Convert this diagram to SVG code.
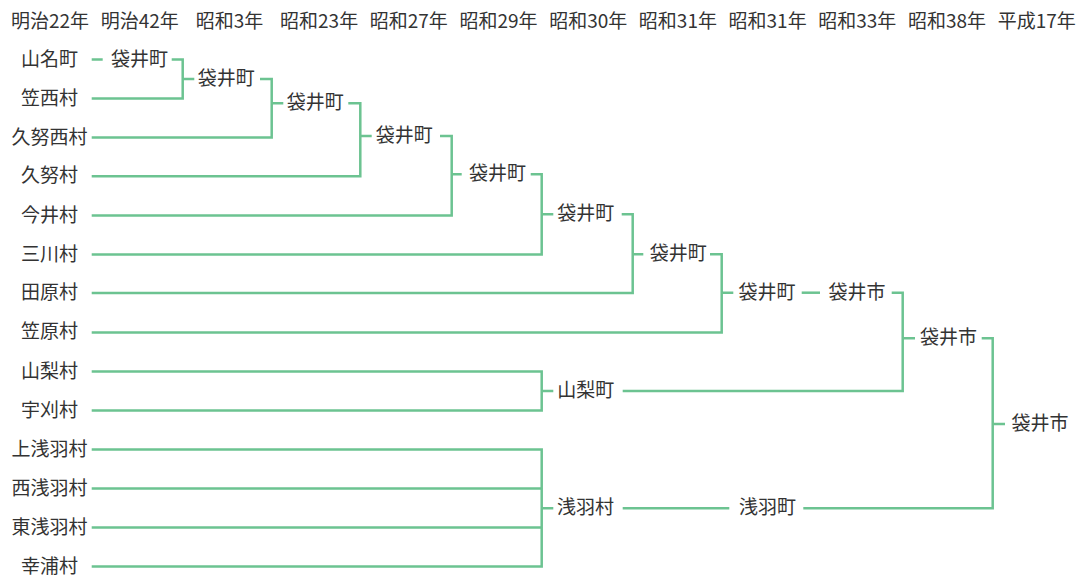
<svg xmlns="http://www.w3.org/2000/svg" width="1090" height="576" viewBox="0 0 1090 576">
<style>
text{font-family:"Noto Sans CJK JP","Noto Sans",sans-serif;font-size:19px;fill:#333;text-anchor:middle}
.c{fill:none;stroke:#6cc391;stroke-width:2.5;stroke-linejoin:miter;stroke-linecap:butt}
</style>
<rect width="1090" height="576" fill="#fff"/>
<g id="header">
<text x="50" y="28">明治22年</text>
<text x="139.7" y="28">明治42年</text>
<text x="229.4" y="28">昭和3年</text>
<text x="319.1" y="28">昭和23年</text>
<text x="408.8" y="28">昭和27年</text>
<text x="498.5" y="28">昭和29年</text>
<text x="588.2" y="28">昭和30年</text>
<text x="677.9" y="28">昭和31年</text>
<text x="767.6" y="28">昭和31年</text>
<text x="857.3" y="28">昭和33年</text>
<text x="947" y="28">昭和38年</text>
<text x="1036.7" y="28">平成17年</text>
</g>
<g id="connectors" class="c">
<path class="c" d="M91.7,59.5H102.7"/>
<path class="c" d="M171.7,59.5H182.7V98.5H91.7M182.7,79H194.3"/>
<path class="c" d="M260,79H271.7V137.5H91.7M271.7,103.3H283.3"/>
<path class="c" d="M348.3,103.3H360.3V176.3H91.7M360.3,136H371.7"/>
<path class="c" d="M440,136H451.7V215.5H91.7M451.7,174.3H461.7"/>
<path class="c" d="M530.7,174.3H541.7V254.5H91.7M541.7,214.3H553.3"/>
<path class="c" d="M621.7,214.3H632.7V293H91.7M632.7,254.3H643.3"/>
<path class="c" d="M710,254.3H721.7V332.4H91.7M721.7,292.7H733.3"/>
<path class="c" d="M801.7,292.7H820"/>
<path class="c" d="M891.7,292.7H902.7V391H622.7M902.7,338.3H915"/>
<path class="c" d="M981.7,338.3H992.7V508.3H803.3M992.7,424H1005"/>
<path class="c" d="M91.7,371.5H541.7V410.5H91.7M541.7,391H553.3"/>
<path class="c" d="M91.7,449.5H541.7V566.5H91.7M91.7,488.5H541.7M91.7,527.5H541.7M541.7,508.3H553.3"/>
<path class="c" d="M622.7,508.3H729.3"/>
</g>
<g id="n_yamanacho"><text x="49.5" y="65.5">山名町</text></g>
<g id="n_kasanishi"><text x="49.5" y="104.5">笠西村</text></g>
<g id="n_kunonishi"><text x="49.5" y="143.5">久努西村</text></g>
<g id="n_kuno"><text x="49.5" y="182.3">久努村</text></g>
<g id="n_imai"><text x="49.5" y="221.5">今井村</text></g>
<g id="n_mikawa"><text x="49.5" y="260.5">三川村</text></g>
<g id="n_tahara"><text x="49.5" y="299">田原村</text></g>
<g id="n_kasahara"><text x="49.5" y="338.4">笠原村</text></g>
<g id="n_yamanashi"><text x="49.5" y="377.5">山梨村</text></g>
<g id="n_ukari"><text x="49.5" y="416.5">宇刈村</text></g>
<g id="n_kamiasaba"><text x="49.5" y="455.5">上浅羽村</text></g>
<g id="n_nishiasaba"><text x="49.5" y="494.5">西浅羽村</text></g>
<g id="n_higashiasaba"><text x="49.5" y="533.5">東浅羽村</text></g>
<g id="n_sachiura"><text x="49.5" y="572.5">幸浦村</text></g>
<g id="n_fukuroi1"><text x="139.5" y="65.5">袋井町</text></g>
<g id="n_fukuroi2"><text x="226.2" y="85">袋井町</text></g>
<g id="n_fukuroi3"><text x="315.3" y="109.3">袋井町</text></g>
<g id="n_fukuroi4"><text x="404.2" y="142">袋井町</text></g>
<g id="n_fukuroi5"><text x="497.5" y="180.3">袋井町</text></g>
<g id="n_fukuroi6"><text x="585.7" y="220.3">袋井町</text></g>
<g id="n_fukuroi7"><text x="678.3" y="260.3">袋井町</text></g>
<g id="n_fukuroi8"><text x="767" y="298.7">袋井町</text></g>
<g id="n_fukuroishi1"><text x="857" y="298.7">袋井市</text></g>
<g id="n_fukuroishi2"><text x="948.5" y="344.3">袋井市</text></g>
<g id="n_fukuroishi3"><text x="1040" y="430">袋井市</text></g>
<g id="n_yamanashicho"><text x="585.8" y="397">山梨町</text></g>
<g id="n_asabamura"><text x="585.5" y="514.3">浅羽村</text></g>
<g id="n_asabacho"><text x="767.5" y="514.3">浅羽町</text></g>
</svg>
